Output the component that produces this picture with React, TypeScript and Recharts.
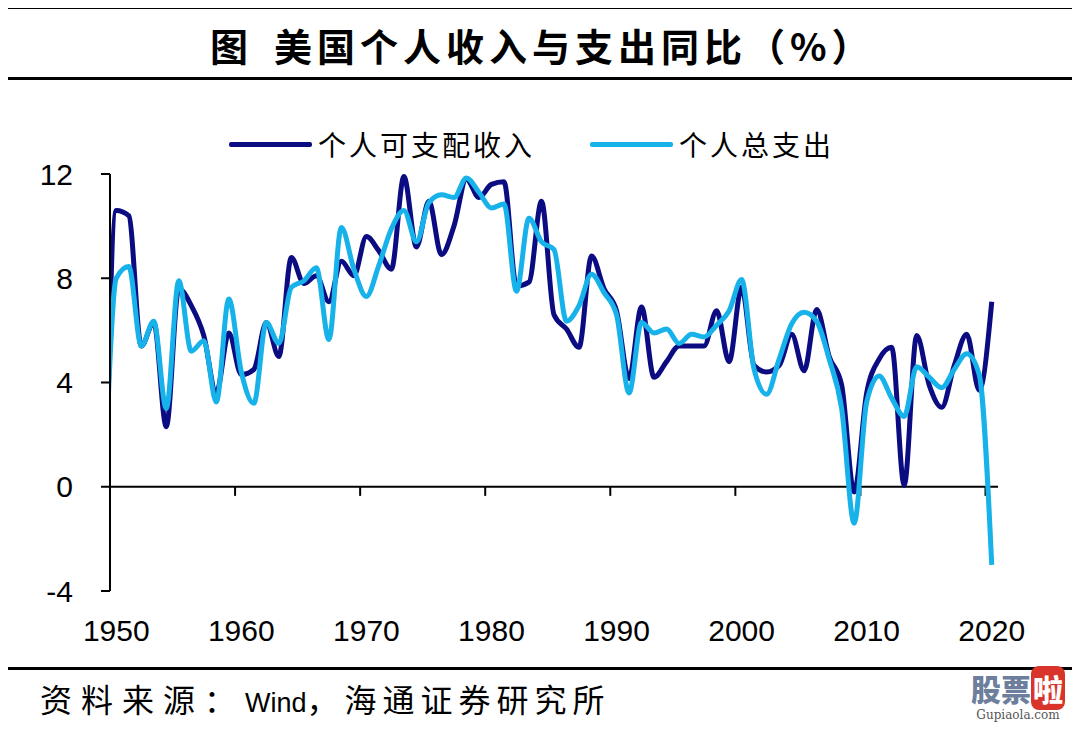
import React from 'react';
import { LineChart, Line, XAxis, YAxis, ReferenceLine } from 'recharts';

// annual yoy growth, %; 1949 sits just left of the axis and is clipped like in the source
const years = [
  1949, 1950, 1951, 1952, 1953, 1954, 1955, 1956, 1957, 1958, 1959,
  1960, 1961, 1962, 1963, 1964, 1965, 1966, 1967, 1968, 1969,
  1970, 1971, 1972, 1973, 1974, 1975, 1976, 1977, 1978, 1979,
  1980, 1981, 1982, 1983, 1984, 1985, 1986, 1987, 1988, 1989,
  1990, 1991, 1992, 1993, 1994, 1995, 1996, 1997, 1998, 1999,
  2000, 2001, 2002, 2003, 2004, 2005, 2006, 2007, 2008, 2009,
  2010, 2011, 2012, 2013, 2014, 2015, 2016, 2017, 2018, 2019,
  2020,
];

const disposableIncome = [
  -4.0, 10.6, 10.4, 5.4, 6.3, 2.3, 7.6, 6.95, 5.8, 3.6, 5.9,
  4.3, 4.5, 6.3, 5.0, 8.8, 7.8, 8.1, 7.1, 8.65, 8.1,
  9.6, 9.05, 8.35, 11.9, 9.2, 10.95, 8.9, 10.0, 11.8, 11.1,
  11.6, 11.7, 7.7, 7.85, 10.95, 6.6, 6.05, 5.35, 8.85, 7.6,
  6.75, 4.15, 6.9, 4.2, 4.8, 5.4, 5.4, 5.4, 6.75, 4.8,
  7.65, 4.65, 4.4, 4.65, 5.85, 4.45, 6.8, 5.0, 3.9, -0.2,
  3.6, 4.9, 5.35, 0.05, 5.8, 3.9, 3.05, 4.65, 5.85, 3.7,
  7.1,
];

const totalSpending = [
  -1.0, 8.0, 8.45, 5.4, 6.35, 3.0, 7.9, 5.2, 5.6, 3.25, 7.2,
  4.4, 3.2, 6.3, 5.5, 7.65, 7.9, 8.4, 5.65, 9.95, 8.35,
  7.3, 8.5, 9.9, 10.6, 9.4, 10.9, 11.2, 11.1, 11.85, 11.3,
  10.7, 10.85, 7.5, 10.3, 9.4, 9.1, 6.35, 6.95, 8.15, 7.45,
  6.6, 3.6, 6.3, 5.9, 6.05, 5.5, 5.85, 5.75, 6.2, 6.75,
  7.95, 4.5, 3.55, 4.9, 6.25, 6.7, 6.35, 4.9, 3.0, -1.4,
  3.25, 4.25, 3.4, 2.7, 4.6, 4.2, 3.8, 4.5, 5.1, 4.3,
  -3.0,
];

const yearLabels = [1950, 1960, 1970, 1980, 1990, 2000, 2010, 2020];
// tick marks sit between categories, on the zero line
const yearTickMarks = [1959.5, 1969.5, 1979.5, 1989.5, 1999.5, 2009.5, 2019.5];
const valueTicks = [-4, 0, 4, 8, 12];

const data = years.map((year, i) => ({
  year,
  income: disposableIncome[i],
  spending: totalSpending[i],
}));

const cjkFont = "'Noto Sans CJK SC', sans-serif";
const latinFont = "'Liberation Sans', Arial, sans-serif";
const DARK = '#0B0B82';
const LIGHT = '#17B2EA';

const YearTick = (props: any) => {
  const { x, y, payload } = props;
  return (
    <text x={x} y={y} dy={50} textAnchor="middle" fontSize={30} fontFamily={latinFont} fill="#000">
      {payload.value}
    </text>
  );
};

const LegendItem = ({ color, label }: { color: string; label: string }) => (
  <div style={{ display: 'flex', alignItems: 'center' }}>
    <div style={{ width: 83, height: 5, background: color, borderRadius: 2, marginRight: 6 }} />
    <span style={{ letterSpacing: 3 }}>{label}</span>
  </div>
);

export default function App() {
  return (
    <div style={{ position: 'relative', width: 1064, height: 714, background: '#fff' }}>
      {/* header rules + title */}
      <div style={{ position: 'absolute', left: 0, top: -2, width: 1064, height: 3, background: '#000' }} />
      <div
        style={{
          position: 'absolute',
          left: 202,
          top: 10,
          height: 54,
          lineHeight: '54px',
          fontFamily: cjkFont,
          fontWeight: 700,
          fontSize: 38,
          whiteSpace: 'nowrap',
          color: '#000',
        }}
      >
        <span style={{ marginRight: 26 }}>图</span>
        <span style={{ letterSpacing: 5 }}>美国个人收入与支出同比（%）</span>
      </div>
      <div style={{ position: 'absolute', left: 0, top: 69, width: 1064, height: 3, background: '#000' }} />

      <div style={{ position: 'absolute', left: 0, top: 0 }}>
        <LineChart width={1064} height={640} data={data} margin={{ top: 166, right: 74, bottom: 0, left: 0 }}>
          <XAxis
            dataKey="year"
            type="number"
            domain={[1949.5, 2020.5]}
            ticks={yearLabels}
            interval={0}
            allowDataOverflow
            axisLine={false}
            tickLine={false}
            tickSize={0}
            tickMargin={0}
            height={57}
            tick={<YearTick />}
          />
          <YAxis
            domain={[-4, 12]}
            ticks={valueTicks}
            interval={0}
            allowDataOverflow
            width={102}
            axisLine={{ stroke: '#000', strokeWidth: 2 }}
            tickLine={{ stroke: '#000', strokeWidth: 2 }}
            tickSize={9}
            tickMargin={28}
            tick={{ fill: '#000', fontSize: 30, fontFamily: latinFont }}
          />
          <ReferenceLine y={0} stroke="#000" strokeWidth={2} />
          {yearTickMarks.map((t) => (
            <ReferenceLine
              key={t}
              segment={[{ x: t, y: 0 }, { x: t, y: -0.35 }]}
              stroke="#000"
              strokeWidth={2}
            />
          ))}
          <Line
            type="monotone"
            dataKey="income"
            name="个人可支配收入"
            stroke={DARK}
            strokeWidth={5}
            dot={false}
            isAnimationActive={false}
          />
          <Line
            type="monotone"
            dataKey="spending"
            name="个人总支出"
            stroke={LIGHT}
            strokeWidth={5}
            dot={false}
            isAnimationActive={false}
          />
        </LineChart>
      </div>

      {/* legend */}
      <div
        style={{
          position: 'absolute',
          left: 221,
          top: 116,
          display: 'flex',
          gap: 55,
          fontFamily: cjkFont,
          fontSize: 28,
          color: '#000',
          whiteSpace: 'nowrap',
        }}
      >
        <LegendItem color={DARK} label="个人可支配收入" />
        <LegendItem color={LIGHT} label="个人总支出" />
      </div>

      {/* footer */}
      <div style={{ position: 'absolute', left: 0, top: 659, width: 1064, height: 3, background: '#000' }} />
      <div
        style={{
          position: 'absolute',
          left: 32,
          top: 668,
          height: 44,
          lineHeight: '44px',
          fontSize: 32,
          fontFamily: cjkFont,
          color: '#000',
          whiteSpace: 'nowrap',
        }}
      >
        <span style={{ letterSpacing: 9 }}>资料来源：</span>
        <span style={{ fontFamily: latinFont, fontSize: 27 }}>Wind</span>
        <span style={{ letterSpacing: 6 }}>，海通证券研究所</span>
      </div>

      {/* watermark */}
      <div
        style={{
          position: 'absolute',
          left: 952,
          top: 663,
          width: 116,
          height: 34,
          lineHeight: '34px',
          textAlign: 'center',
          fontFamily: cjkFont,
          fontWeight: 900,
          fontSize: 30,
          whiteSpace: 'nowrap',
        }}
      >
        <span style={{ color: '#6d7f9c' }}>股票</span>
        <span style={{ color: '#fff', background: '#d9342b', borderRadius: 8, padding: '0 2px' }}>啦</span>
      </div>
      <div
        style={{
          position: 'absolute',
          left: 952,
          top: 700,
          width: 116,
          height: 14,
          lineHeight: '14px',
          textAlign: 'center',
          fontFamily: "'DejaVu Serif', serif",
          fontSize: 12,
          color: '#555',
          whiteSpace: 'nowrap',
        }}
      >
        Gupiaola.com
      </div>
    </div>
  );
}
